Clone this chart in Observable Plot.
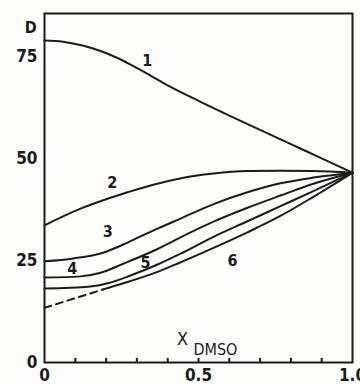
<!DOCTYPE html>
<html>
<head>
<meta charset="utf-8">
<script src="https://cdn.jsdelivr.net/npm/d3@7"></script>
<script src="https://cdn.jsdelivr.net/npm/@observablehq/plot@0.6"></script>
<style>
  html, body { margin: 0; padding: 0; background: #fdfdfb; }
  #chart { width: 360px; height: 384px; }
</style>
</head>
<body>
<div id="chart"></div>
<script>
// Curve data: x = mole fraction of DMSO, D = dielectric constant
const xC1 = [0, 0.06, 0.127, 0.182, 0.237, 0.289, 0.344, 0.4, 0.5, 0.6, 0.7, 0.8, 0.9, 1.0];
const dC1 = [78.9, 78.6, 77.6, 76.3, 74.6, 72.6, 70.3, 67.9, 64.1, 60.5, 57.0, 53.5, 50.0, 46.5];

const xC2 = [0, 0.06, 0.127, 0.2, 0.27, 0.35, 0.44, 0.549, 0.659, 0.766, 0.873, 1.0];
const dC2 = [33.6, 35.8, 38.0, 40.0, 41.7, 43.5, 45.1, 46.3, 46.9, 47.0, 46.9, 46.5];

const xC3 = [0, 0.094, 0.182, 0.256, 0.312, 0.367, 0.44, 0.549, 0.659, 0.766, 0.873, 1.0];
const dC3 = [24.8, 25.5, 26.7, 28.9, 30.9, 32.8, 35.2, 38.8, 41.7, 43.9, 45.3, 46.5];

const xC4 = [0, 0.117, 0.182, 0.256, 0.367, 0.44, 0.549, 0.659, 0.766, 0.873, 1.0];
const dC4 = [20.8, 21.1, 22.0, 24.2, 27.8, 30.6, 34.5, 37.9, 40.9, 43.8, 46.5];

const xC5 = [0, 0.149, 0.205, 0.279, 0.367, 0.44, 0.549, 0.659, 0.766, 0.873, 1.0];
const dC5 = [18.1, 18.6, 19.4, 21.3, 24.0, 26.6, 30.8, 34.6, 38.3, 42.0, 46.5];

const xC6 = [0.19, 0.256, 0.367, 0.44, 0.549, 0.659, 0.766, 0.873, 1.0];
const dC6 = [17.9, 19.4, 22.2, 24.5, 28.1, 31.9, 35.9, 40.6, 46.5];

// dashed extrapolation of curve 6
const xC6dash = [0, 0.19];
const dC6dash = [13.4, 17.9];

// curve numbers and their positions (data units)
const curveNames = ["1", "2", "3", "4", "5", "6"];
const labelX = [0.334, 0.22, 0.205, 0.09, 0.328, 0.61];
const labelD = [73.8, 44.1, 31.9, 23.0, 24.3, 25.0];

// axis ticks
const yTicks = [0, 25, 50, 75];
const xTickLabels = [0, 0.5, 1.0];
const xMinorTicks = [0.1, 0.2, 0.3, 0.4, 0.5, 0.6, 0.7, 0.8, 0.9];

// axis titles (data units)
const yTitle = {text: "D", x: -0.045, d: 82.1};
const xTitleMain = {text: "X", x: 0.448, d: 5.6};
const xTitleSub = {text: "DMSO", x: 0.555, d: 3.2};

const series = [[xC1, dC1], [xC2, dC2], [xC3, dC3], [xC4, dC4], [xC5, dC5], [xC6, dC6]];
const rows = series.flatMap(([xs, ds], i) => xs.map((x, j) => ({x, d: ds[j], s: curveNames[i]})));
const dashRows = xC6dash.map((x, j) => ({x, d: dC6dash[j]}));
const labels = curveNames.map((t, i) => ({t, x: labelX[i], d: labelD[i]}));

const font = "'DejaVu Sans Condensed', 'DejaVu Sans', sans-serif";
const ink = "#1b1b1b";

const chart = Plot.plot({
  width: 360,
  height: 384,
  marginLeft: 44,
  marginRight: 8,
  marginTop: 13,
  marginBottom: 22,
  style: {fontFamily: font, fontSize: "16px", color: ink, background: "#fdfdfb", overflow: "visible"},
  x: {domain: [0, 1]},
  y: {domain: [0, 85.5]},
  marks: [
    Plot.frame({stroke: ink, strokeWidth: 2}),
    Plot.ruleX(xMinorTicks, {y1: 0, y2: 1, stroke: ink, strokeWidth: 2}),
    Plot.axisX({ticks: xTickLabels, tickSize: 0, tickPadding: 6, fontSize: 17, fontWeight: "bold",
      tickFormat: d => d === 0 ? "0" : d.toFixed(1), label: null}),
    Plot.axisY({ticks: yTicks, tickSize: 0, tickPadding: 7, fontSize: 17, fontWeight: "bold", label: null}),
    Plot.line(rows, {x: "x", y: "d", z: "s", stroke: ink, strokeWidth: 2, curve: "monotone-x"}),
    Plot.line(dashRows, {x: "x", y: "d", stroke: ink, strokeWidth: 2, strokeDasharray: "7,5"}),
    Plot.text(labels, {x: "x", y: "d", text: "t", fontSize: 16, fontWeight: "bold", fill: ink}),
    Plot.text([yTitle], {x: "x", y: "d", text: "text", fontSize: 16, fontWeight: "bold", fill: ink}),
    Plot.text([xTitleMain], {x: "x", y: "d", text: "text", fontSize: 18, fill: ink}),
    Plot.text([xTitleSub], {x: "x", y: "d", text: "text", fontSize: 16, fill: ink})
  ]
});
document.getElementById("chart").appendChild(chart);
</script>
</body>
</html>
